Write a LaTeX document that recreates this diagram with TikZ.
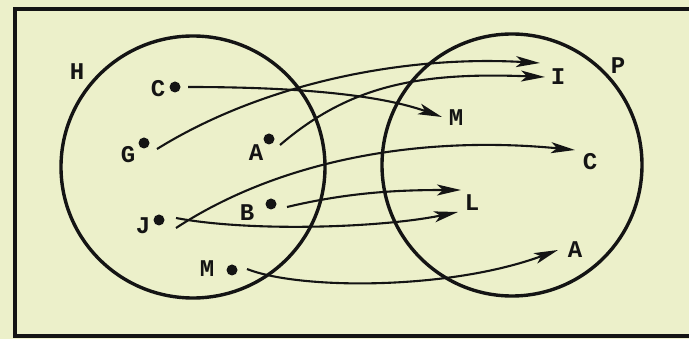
\documentclass[tikz,border=0pt]{standalone}
\usepackage{fontspec}
\setmonofont{Liberation Mono}
\usetikzlibrary{arrows.meta}
\definecolor{paper}{RGB}{236,240,202}
\definecolor{ink}{RGB}{20,20,20}
\tikzset{
  setring/.style={draw=ink, line width=3.4pt},
  elem/.style={circle, fill=ink, inner sep=0pt, minimum size=11pt},
  lab/.style={inner sep=0pt, font=\ttfamily\bfseries\fontsize{24}{24}\selectfont, text=ink},
  mapto/.style={draw=ink, line width=2.1pt, -{Stealth[length=24pt,width=11pt,inset=6pt]}}
}
\begin{document}
\begin{tikzpicture}[x=1pt,y=-1pt]
\useasboundingbox (0,0) rectangle (689,339);
\fill[paper] (0,0) rectangle (689,339);
\draw[ink, line width=3.2pt] (15,9) rectangle (700,336);
% sets
\draw[setring] (193,167) ellipse [x radius=132, y radius=131];
\draw[setring] (512,165) ellipse [x radius=130, y radius=131];
\node[lab] (H) at (77,72) {H};
\node[lab] (P) at (618,66) {P};
% left elements
\node[elem] (c1) at (175,87) {};
\node[lab] (lc1) at (158,89) {C};
\node[elem] (g1) at (144,143) {};
\node[lab] (lg1) at (128,155) {G};
\node[elem] (a1) at (269,139) {};
\node[lab] (la1) at (256,153) {A};
\node[elem] (b1) at (271,204) {};
\node[lab] (lb1) at (247,213) {B};
\node[elem] (j1) at (159,220) {};
\node[lab] (lj1) at (143,226) {J};
\node[elem] (m1) at (232,270) {};
\node[lab] (lm1) at (207,269) {M};
% right labels
\node[lab] (I2) at (558,77) {I};
\node[lab] (M2) at (456,118) {M};
\node[lab] (C2) at (590,162) {C};
\node[lab] (L2) at (472,203) {L};
\node[lab] (A2) at (575,250) {A};
% arrow tips
\coordinate (tI1) at (540,63);
\coordinate (tI2) at (545,77);
\coordinate (tM) at (442,117);
\coordinate (tC) at (575,150);
\coordinate (tL1) at (461,190);
\coordinate (tL2) at (458,212);
\coordinate (tA) at (558,250);
% mappings
\draw[mapto] ([xshift=13pt]c1.center) .. controls (300,87) and (380,95) .. (tM);
\draw[mapto] ([xshift=13pt,yshift=-6pt]g1.center) .. controls (260,85) and (400,55) .. (tI1);
\draw[mapto] ([xshift=11pt,yshift=-6pt]a1.center) .. controls (350,85) and (420,72) .. (tI2);
\draw[mapto] ([xshift=17pt,yshift=-8pt]j1.center) .. controls (280,160) and (420,135) .. (tC);
\draw[mapto] ([xshift=17pt,yshift=2pt]j1.center) .. controls (250,232) and (380,228) .. (tL2);
\draw[mapto] ([xshift=16pt,yshift=-3pt]b1.center) .. controls (350,192) and (400,190) .. (tL1);
\draw[mapto] ([xshift=15pt,yshift=1pt]m1.center) .. controls (300,290) and (450,290) .. (tA);
\end{tikzpicture}
\end{document}
